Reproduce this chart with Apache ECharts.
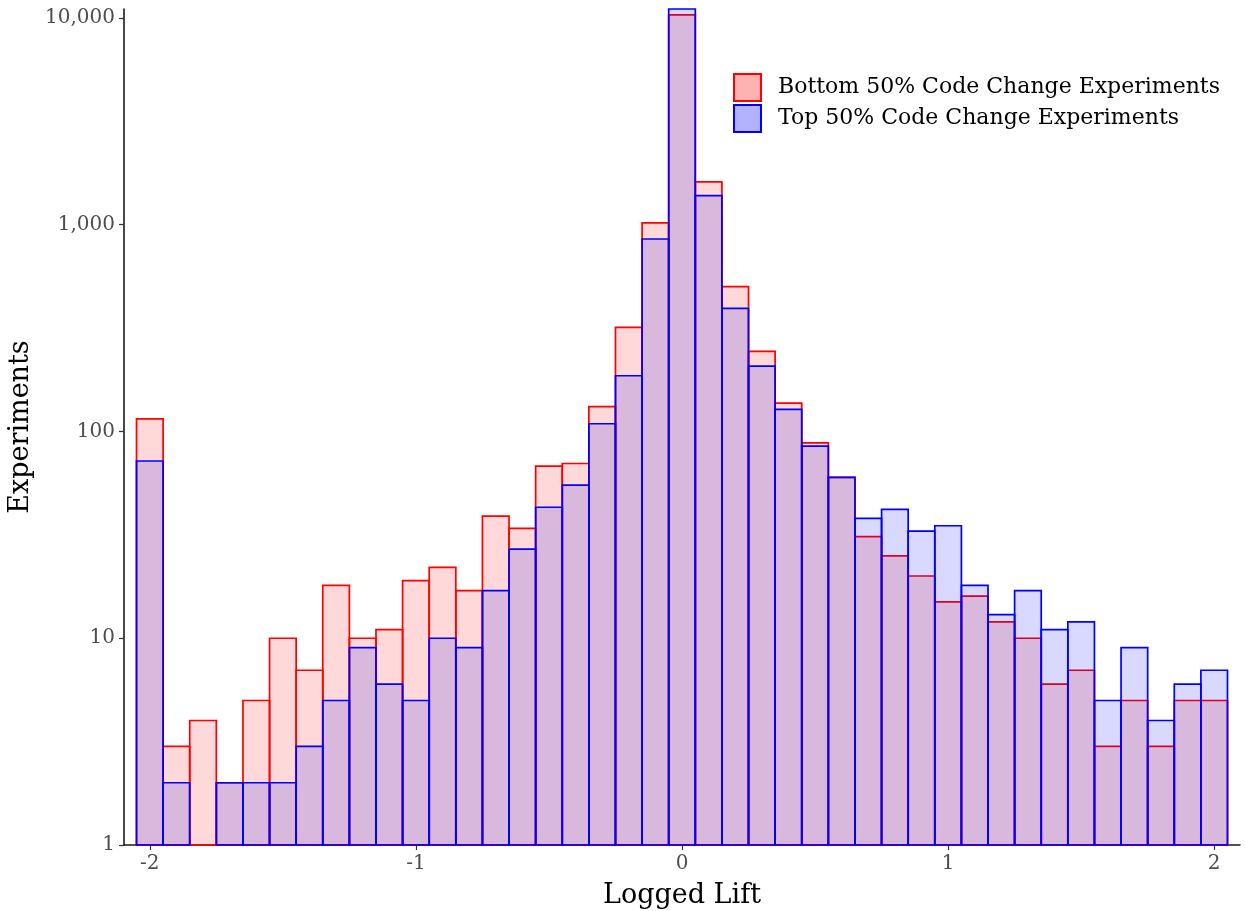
<!DOCTYPE html>
<html>
<head>
<meta charset="utf-8">
<script src="https://cdn.jsdelivr.net/npm/echarts@6/dist/echarts.min.js"></script>
<style>
html,body{margin:0;padding:0;background:#fff;}
#chart{width:1245px;height:911px;}
</style>
</head>
<body>
<div id="chart"></div>
<script>
const binCenters = [-2.0,-1.9,-1.8,-1.7,-1.6,-1.5,-1.4,-1.3,-1.2,-1.1,-1.0,-0.9,-0.8,-0.7,-0.6,-0.5,-0.4,-0.3,-0.2,-0.1,0.0,0.1,0.2,0.3,0.4,0.5,0.6,0.7,0.8,0.9,1.0,1.1,1.2,1.3,1.4,1.5,1.6,1.7,1.8,1.9,2.0];
const binWidth = 0.1;
const bottomCounts = [115,3,4,2,5,10,7,18,10,11,19,22,17,39,34,68,70,132,319,1020,10340,1610,502,244,137,88,60,31,25,20,15,16,12,10,6,7,3,5,3,5,5];
const topCounts = [72,2,null,2,2,2,3,5,9,6,5,10,9,17,27,43,55,109,186,853,11050,1382,394,207,128,85,60,38,42,33,35,18,13,17,11,12,5,9,4,6,7];
const xTicks = [-2,-1,0,1,2];
const yTicks = [1,10,100,1000,10000];
const seriesNames = ['Bottom 50% Code Change Experiments','Top 50% Code Change Experiments'];

const FONT = 'DejaVu Serif';
const chart = echarts.init(document.getElementById('chart'), null, {renderer:'canvas'});
const toPairs = arr => binCenters.map((x,i) => [x, arr[i] == null ? '-' : arr[i]]);

function makeRender(fill, stroke) {
  return function (params, api) {
    const x = api.value(0), y = api.value(1);
    if (y == null || isNaN(y)) return null;
    const p1 = api.coord([x - binWidth / 2, y]);
    const p2 = api.coord([x + binWidth / 2, 1]);
    return {
      type: 'rect',
      shape: {x: p1[0], y: p1[1], width: p2[0] - p1[0], height: p2[1] - p1[1]},
      style: {fill: fill, stroke: stroke, lineWidth: 1.7}
    };
  };
}

chart.setOption({
  animation: false,
  backgroundColor: '#fff',
  grid: {left: 124, right: 5, top: 9, bottom: 66, containLabel: false, outerBoundsMode: 'none'},
  legend: {
    orient: 'vertical', left: 733, top: 73, padding: 0,
    itemWidth: 27, itemHeight: 27, itemGap: 2, icon: 'rect',
    textStyle: {fontFamily: FONT, fontSize: 22, color: '#000', padding: [0,0,0,12]},
    data: [
      {name: seriesNames[0], itemStyle: {color: 'rgba(255,0,0,0.3)', borderColor: '#ff0000', borderWidth: 2}},
      {name: seriesNames[1], itemStyle: {color: 'rgba(0,0,255,0.3)', borderColor: '#0000ff', borderWidth: 2}}
    ]
  },
  xAxis: {
    type: 'value', min: -2.097, max: 2.097,
    splitLine: {show: false},
    axisLine: {onZero: false, lineStyle: {color: '#1a1a1a', width: 1.6}},
    axisTick: {customValues: xTicks, length: 5, lineStyle: {color: '#333', width: 1.2}},
    axisLabel: {customValues: xTicks, color: '#4d4d4d', fontFamily: FONT, fontSize: 20, margin: 9},
    name: 'Logged Lift', nameLocation: 'middle', nameGap: 37,
    nameTextStyle: {fontFamily: FONT, fontSize: 27, color: '#000'}
  },
  yAxis: {
    type: 'log', logBase: 10, min: 1, max: 11050,
    splitLine: {show: false},
    axisLine: {onZero: false, lineStyle: {color: '#1a1a1a', width: 1.6}},
    axisTick: {customValues: yTicks, length: 5, lineStyle: {color: '#333', width: 1.2}},
    axisLabel: {customValues: yTicks, color: '#4d4d4d', fontFamily: FONT, fontSize: 20, margin: 9,
      formatter: v => Math.round(v).toLocaleString('en-US')},
    name: 'Experiments', nameLocation: 'middle', nameGap: 88, nameRotate: 90,
    nameTextStyle: {fontFamily: FONT, fontSize: 27, color: '#000'}
  },
  series: [
    {
      name: seriesNames[0], type: 'custom', data: toPairs(bottomCounts),
      encode: {x: 0, y: 1},
      itemStyle: {color: 'rgba(255,0,0,0.15)', borderColor: '#ff0000'},
      renderItem: makeRender('rgba(255,0,0,0.15)', '#ff0000')
    },
    {
      name: seriesNames[1], type: 'custom', data: toPairs(topCounts),
      encode: {x: 0, y: 1},
      itemStyle: {color: 'rgba(0,0,255,0.15)', borderColor: '#0000ff'},
      renderItem: makeRender('rgba(0,0,255,0.15)', '#0000ff')
    }
  ]
});
</script>
</body>
</html>
